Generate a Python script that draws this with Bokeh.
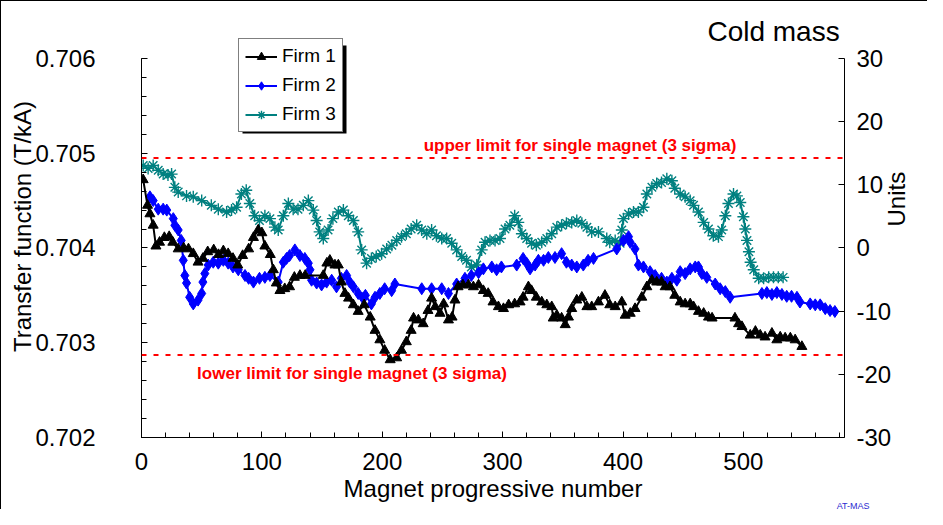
import math
from bokeh.plotting import figure
from bokeh.models import (Range1d, LinearAxis, FixedTicker, PrintfTickFormatter,
                          Span, Label, BoxAnnotation, Title)
from bokeh.embed import file_html
from bokeh.resources import INLINE

# ---------------- data ----------------
firm1_x = [1.4, 5, 7, 9.7, 12, 15, 19, 23, 26, 30.5, 35, 39, 43, 47, 51, 55, 60, 64, 68, 72,
           76, 80, 84, 89, 93, 97, 100, 102.5, 107, 109.5, 112, 115, 119, 123, 127, 131.6, 136,
           151, 154, 156.5, 160.7, 163.5, 166, 169, 172, 176, 180, 185, 190, 194, 198, 202,
           206.6, 212, 216, 220, 224, 226, 230, 234, 238, 241, 244, 248, 251, 255, 258, 260.4,
           263, 267, 271.6, 275.7, 280, 284, 288, 292, 296.5, 300.7, 305, 310, 314.5, 317,
           321.4, 324, 328, 332.5, 336.7, 340.8, 342, 345, 349, 352, 354.7, 357.4, 361.6,
           365.8, 370, 374, 379.6, 385, 389, 393.5, 399, 401.8, 406, 410, 415.6, 419.8, 424,
           428, 432, 435, 439, 443, 447.5, 451.6, 455.8, 458.6, 462.7, 467, 471, 474, 493, 496,
           498.8, 505.7, 510, 514, 518, 523.7, 527.8, 530.6, 534.7, 539, 543, 548.6]
firm1_y = [0.70472, 0.70445, 0.70436, 0.70424, 0.70402, 0.70406, 0.70411, 0.70412, 0.70406,
           0.70399, 0.70400, 0.70399, 0.70394, 0.70385, 0.70389, 0.70396, 0.70398, 0.70393,
           0.70397, 0.70394, 0.70389, 0.70382, 0.70392, 0.70399, 0.70411, 0.70419, 0.70416,
           0.70402, 0.70393, 0.70377, 0.70363, 0.70355, 0.70357, 0.70359, 0.70369, 0.70371,
           0.70371, 0.70371, 0.70384, 0.70387, 0.70382, 0.70382, 0.70364, 0.70352, 0.70347,
           0.70340, 0.70333, 0.70340, 0.70327, 0.70313, 0.70303, 0.70292, 0.70282, 0.70284,
           0.70292, 0.70301, 0.70313, 0.70326, 0.70324, 0.70320, 0.70334, 0.70347, 0.70338,
           0.70331, 0.70341, 0.70324, 0.70327, 0.70345, 0.70359, 0.70361, 0.70361, 0.70359,
           0.70361, 0.70355, 0.70352, 0.70343, 0.70338, 0.70336, 0.70340, 0.70341, 0.70343,
           0.70348, 0.70359, 0.70355, 0.70348, 0.70343, 0.70340, 0.70338, 0.70326, 0.70329,
           0.70326, 0.70319, 0.70327, 0.70336, 0.70345, 0.70348, 0.70338, 0.70338, 0.70343,
           0.70350, 0.70340, 0.70338, 0.70343, 0.70329, 0.70331, 0.70336, 0.70348, 0.70359,
           0.70366, 0.70364, 0.70364, 0.70359, 0.70359, 0.70350, 0.70343, 0.70341, 0.70341,
           0.70338, 0.70333, 0.70331, 0.70327, 0.70326, 0.70326, 0.70320, 0.70317, 0.70308,
           0.70312, 0.70308, 0.70306, 0.70310, 0.70303, 0.70306, 0.70305, 0.70305, 0.70303,
           0.70296]

firm2_x = [7, 9.7, 13.9, 18, 21, 26.4, 27.7, 30.5, 33, 34.7, 36, 37.4, 40, 43, 47, 50, 51,
           52.6, 55.4, 59.6, 63.8, 68, 72, 76, 80.4, 86, 89, 93, 98, 102.5, 106.7, 113.6,
           117.8, 120.5, 123, 127.4, 131.6, 135.7, 138.6, 140, 141.3, 145.5, 149.6, 153.8,
           158, 162, 166, 170.4, 173, 176, 180, 184, 186, 191, 194, 198, 202, 207.8, 210.5,
           232.8, 241, 249.4, 255, 261.8, 268.7, 274, 280, 284, 291, 295, 299, 311.7, 317,
           320, 322.8, 327, 329.7, 334, 338, 343.5, 349, 353, 357.4, 361.6, 367, 371, 375.5,
           394.8, 400.4, 404.6, 406, 410, 412.8, 417, 422.5, 426.7, 432, 436.4, 440.6, 444.7,
           447.5, 451.6, 455.8, 460, 462.7, 465.5, 469.6, 476.6, 480.7, 485, 489, 515.4,
           519.5, 523.7, 527.8, 532, 536, 540, 544.5, 547, 555.5, 559.7, 563.8, 568, 572, 576]
firm2_y = [0.70454, 0.70450, 0.70441, 0.70441, 0.70440, 0.70431, 0.70424, 0.70419, 0.70408,
           0.70387, 0.70371, 0.70363, 0.70348, 0.70341, 0.70345, 0.70352, 0.70364, 0.70373,
           0.70382, 0.70385, 0.70384, 0.70387, 0.70384, 0.70380, 0.70377, 0.70371, 0.70368,
           0.70364, 0.70368, 0.70369, 0.70371, 0.70364, 0.70385, 0.70389, 0.70392, 0.70398,
           0.70392, 0.70389, 0.70384, 0.70377, 0.70366, 0.70363, 0.70361, 0.70364, 0.70366,
           0.70359, 0.70368, 0.70371, 0.70364, 0.70359, 0.70352, 0.70347, 0.70350, 0.70341,
           0.70348, 0.70352, 0.70357, 0.70355, 0.70362, 0.70357, 0.70357, 0.70357, 0.70352,
           0.70362, 0.70368, 0.70371, 0.70374, 0.70378, 0.70380, 0.70377, 0.70380, 0.70382,
           0.70389, 0.70384, 0.70378, 0.70382, 0.70387, 0.70387, 0.70390, 0.70390, 0.70394,
           0.70385, 0.70382, 0.70380, 0.70382, 0.70387, 0.70389, 0.70399, 0.70408, 0.70412,
           0.70406, 0.70399, 0.70382, 0.70380, 0.70375, 0.70371, 0.70368, 0.70364, 0.70368,
           0.70366, 0.70375, 0.70373, 0.70378, 0.70380, 0.70380, 0.70373, 0.70369, 0.70362,
           0.70357, 0.70354, 0.70348, 0.70352, 0.70353, 0.70351, 0.70353, 0.70351, 0.70349,
           0.70349, 0.70348, 0.70343, 0.70341, 0.70340, 0.70340, 0.70336, 0.70334, 0.70333]

firm3_x = [1.4, 5.5, 9.7, 13.9, 18, 22, 25, 27.7, 30.5, 37.4, 43, 50, 58, 63.8, 70.7, 74.8,
           79, 83, 87, 90, 94, 98, 102.5, 106.7, 110.8, 113.6, 117.8, 122, 126, 130, 134.4,
           138.6, 142.7, 145.5, 148, 151, 155, 159, 163.5, 167.7, 171.8, 176, 180, 182.9, 187,
           191, 195, 199.5, 203.7, 208, 212, 216, 220, 224, 228.6, 232.8, 237, 241, 245,
           249.4, 253.5, 257.7, 261.8, 266, 270, 274, 278.5, 282.6, 285.4, 289.5, 293.7,
           297.8, 302, 306, 310, 313, 316, 320, 324, 328, 332.5, 336.7, 340.8, 345, 349, 353,
           357.4, 361.6, 365.8, 370, 374, 379.6, 386.5, 389, 393.5, 397.6, 399, 400.4, 404.6,
           408.7, 412.8, 417, 419.8, 424, 428, 432, 436.4, 440.6, 443, 447.5, 451.6, 455.8,
           458.6, 462.7, 467, 471, 475, 479.3, 482, 485, 487.6, 491.8, 494.6, 497.4, 500,
           501.6, 503, 504.6, 506, 508.6, 512.7, 516.8, 521, 525, 529, 533]
firm3_y = [0.70487, 0.70484, 0.70487, 0.70482, 0.70478, 0.70477, 0.70478, 0.70464, 0.70459,
           0.70455, 0.70454, 0.70450, 0.70445, 0.70441, 0.70438, 0.70440, 0.70443, 0.70457,
           0.70461, 0.70447, 0.70434, 0.70429, 0.70434, 0.70431, 0.70422, 0.70419, 0.70434,
           0.70447, 0.70441, 0.70441, 0.70445, 0.70450, 0.70440, 0.70429, 0.70417, 0.70410,
           0.70419, 0.70431, 0.70438, 0.70440, 0.70434, 0.70429, 0.70417, 0.70398, 0.70384,
           0.70389, 0.70391, 0.70394, 0.70399, 0.70403, 0.70408, 0.70412, 0.70415, 0.70420,
           0.70424, 0.70419, 0.70415, 0.70419, 0.70413, 0.70410, 0.70410, 0.70405, 0.70398,
           0.70391, 0.70387, 0.70380, 0.70382, 0.70398, 0.70406, 0.70408, 0.70408, 0.70410,
           0.70420, 0.70424, 0.70434, 0.70427, 0.70415, 0.70410, 0.70405, 0.70403, 0.70406,
           0.70410, 0.70415, 0.70422, 0.70424, 0.70426, 0.70427, 0.70429, 0.70426, 0.70422,
           0.70417, 0.70417, 0.70410, 0.70406, 0.70408, 0.70405, 0.70419, 0.70431, 0.70436,
           0.70438, 0.70438, 0.70443, 0.70457, 0.70464, 0.70468, 0.70469, 0.70473, 0.70471,
           0.70463, 0.70457, 0.70454, 0.70450, 0.70445, 0.70438, 0.70427, 0.70420, 0.70413,
           0.70412, 0.70419, 0.70434, 0.70447, 0.70457, 0.70455, 0.70448, 0.70433, 0.70420,
           0.70408, 0.70396, 0.70385, 0.70377, 0.70368, 0.70368, 0.70369, 0.70369, 0.70369,
           0.70369]

upper_limit = 0.70495
lower_limit = 0.70287

left_ticks = [0.702, 0.703, 0.704, 0.705, 0.706]
right_ticks = [-30, -20, -10, 0, 10, 20, 30]
x_ticks = [0, 100, 200, 300, 400, 500]

# ---------------- figure ----------------
FONT = "Liberation Sans"
Y0, Y1 = 0.702, 0.706
Y_TOP = 0.7064538          # frame reaches a little above 0.706 to host legend/title
U_TOP = 36.807

p = figure(width=927, height=509, x_range=Range1d(0, 584), y_range=Range1d(Y0, Y_TOP),
           output_backend="svg", toolbar_location=None,
           min_border_left=140, min_border_right=84, min_border_top=14, min_border_bottom=73,
           styles={"border-left": "1px solid black", "border-top": "1px solid black"})
p.outline_line_color = None
p.xgrid.grid_line_color = None
p.ygrid.grid_line_color = None
p.background_fill_color = "white"
p.border_fill_color = "white"

# left axis
ya = p.yaxis[0]
ya.bounds = (Y0, Y1)
minor_left = [round(Y0 + i * 0.0002, 4) for i in range(21)]
ya.ticker = FixedTicker(ticks=left_ticks, minor_ticks=minor_left)
ya.formatter = PrintfTickFormatter(format="%.3f")
ya.axis_label = "Transfer function (T/kA)"

# bottom axis
xa = p.xaxis[0]
xa.ticker = FixedTicker(ticks=x_ticks, minor_ticks=list(range(0, 581, 20)))
xa.formatter = PrintfTickFormatter(format="%d")
xa.axis_label = "Magnet progressive number"

# right axis
p.extra_y_ranges = {"units": Range1d(-30, U_TOP)}
ra = LinearAxis(y_range_name="units", axis_label="Units", bounds=(-30, 30),
                ticker=FixedTicker(ticks=right_ticks),
                formatter=PrintfTickFormatter(format="%d"))
p.add_layout(ra, "right")

for ax in (ya, xa, ra):
    ax.axis_line_color = "black"
    ax.axis_line_width = 1
    ax.major_tick_in = 6
    ax.major_tick_out = 0
    ax.minor_tick_in = 5
    ax.minor_tick_out = 0
    ax.major_tick_line_color = "black"
    ax.minor_tick_line_color = "black"
    ax.major_label_text_font = FONT
    ax.major_label_text_font_size = "24px"
    ax.major_label_text_color = "black"
    ax.axis_label_text_font = FONT
    ax.axis_label_text_font_size = "24px"
    ax.axis_label_text_font_style = "normal"
    ax.axis_label_text_color = "black"

ra.minor_tick_line_color = None
ya.major_label_standoff = 46
ya.axis_label_standoff = -4
xa.major_label_standoff = 15
xa.axis_label_standoff = 2
ra.major_label_standoff = 12
ra.axis_label_standoff = 2
if "axis_label_orientation" in ra.properties():
    ra.axis_label_orientation = math.pi / 2

# limit lines
for loc in (upper_limit, lower_limit):
    p.add_layout(Span(location=loc, dimension="width", line_color="#FF0000",
                      line_width=2, line_dash="5 7"))

p.add_layout(Label(x=364.3, y=0.705082, text="upper limit for single magnet (3 sigma)",
                   text_font=FONT, text_font_size="17px", text_font_style="bold",
                   text_color="#FF0000", text_align="center", text_baseline="middle"))
p.add_layout(Label(x=174.9, y=0.702675, text="lower limit for single magnet (3 sigma)",
                   text_font=FONT, text_font_size="17px", text_font_style="bold",
                   text_color="#FF0000", text_align="center", text_baseline="middle"))

# legend shadow (drawn below everything else)
p.add_layout(BoxAnnotation(left=240, right=344, top=43, bottom=131,
                           left_units="canvas", right_units="canvas",
                           top_units="canvas", bottom_units="canvas",
                           fill_color="black", fill_alpha=1, line_color=None,
                           level="underlay"))

# series
p.line(firm3_x, firm3_y, line_color="#008080", line_width=2, legend_label="Firm 3")
p.scatter(firm3_x, firm3_y, marker="asterisk", size=12, line_color="#008080",
          line_width=1.4, legend_label="Firm 3")
p.line(firm2_x, firm2_y, line_color="#0000FF", line_width=2, legend_label="Firm 2")
p.scatter(firm2_x, firm2_y, marker="diamond", size=12, fill_color="#0000FF",
          line_color="#0000FF", legend_label="Firm 2")
p.line(firm1_x, firm1_y, line_color="black", line_width=2, legend_label="Firm 1")
p.scatter(firm1_x, firm1_y, marker="triangle", size=10, fill_color="black",
          line_color="black", legend_label="Firm 1")

# legend order: Firm 1, Firm 2, Firm 3
leg = p.legend[0]
leg.items = sorted(leg.items, key=lambda it: it.label.value)
leg.location = (97, 305)
leg.border_line_color = "black"
leg.border_line_width = 1
leg.background_fill_color = "white"
leg.background_fill_alpha = 1
leg.label_text_font = FONT
leg.label_text_font_size = "19px"
leg.label_text_color = "black"
leg.glyph_width = 32
leg.glyph_height = 21
leg.label_height = 21
leg.label_standoff = 5
leg.spacing = 7
leg.padding = 6
leg.margin = 0

# titles / notes
p.add_layout(Label(x=580, y=0.706285, text="Cold mass", text_font=FONT,
                   text_font_size="28px", text_color="black",
                   text_align="right", text_baseline="middle"))
p.add_layout(Title(text="AT-MAS", align="right", text_font=FONT, text_font_size="9px",
                   text_font_style="normal", text_color="#2b2bd0",
                   standoff=-12, offset=-25), "below")

open("out.html", "w").write(file_html(p, INLINE))
